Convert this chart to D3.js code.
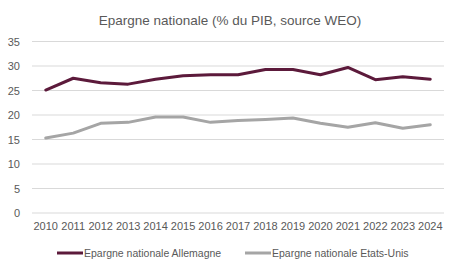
<!DOCTYPE html>
<html>
<head>
<meta charset="utf-8">
<script src="https://cdn.jsdelivr.net/npm/d3@7"></script>
<style>
  body { margin: 0; background: #fff; }
  text { font-family: "Liberation Sans", Arial, sans-serif; fill: #595959; }
</style>
</head>
<body>
<div id="chart"></div>
<script>
var years = ["2010","2011","2012","2013","2014","2015","2016","2017","2018","2019","2020","2021","2022","2023","2024"]
var allemagne = [25.1, 27.5, 26.6, 26.3, 27.3, 28.0, 28.2, 28.2, 29.3, 29.3, 28.2, 29.7, 27.2, 27.8, 27.3]
var etatsUnis = [15.3, 16.3, 18.3, 18.5, 19.6, 19.6, 18.5, 18.9, 19.1, 19.4, 18.3, 17.5, 18.4, 17.3, 18.0]
var yTicks = [0, 5, 10, 15, 20, 25, 30, 35]
var seriesNames = ["Epargne nationale Allemagne", "Epargne nationale Etats-Unis"]
var colors = ["#5c1a3b", "#a5a5a5"]

var width = 460, height = 274
var margin = { top: 41.5, right: 16, bottom: 61, left: 32 }

var svg = d3.select("#chart").append("svg")
    .attr("width", width)
    .attr("height", height)

var x = d3.scaleBand()
    .domain(years)
    .range([margin.left, width - margin.right])

var y = d3.scaleLinear()
    .domain([0, 35])
    .range([height - margin.bottom, margin.top])

// title
svg.append("text")
    .attr("x", 230)
    .attr("y", 25)
    .attr("text-anchor", "middle")
    .style("font-size", "13.5px")
    .text("Epargne nationale (% du PIB, source WEO)")

// gridlines
svg.append("g").selectAll("line")
    .data(yTicks)
    .enter().append("line")
    .attr("x1", margin.left)
    .attr("x2", width - margin.right)
    .attr("y1", function(d){ return y(d) })
    .attr("y2", function(d){ return y(d) })
    .attr("stroke", "#d9d9d9")
    .attr("stroke-width", 1)

var yAxis = d3.axisLeft(y).tickValues(yTicks).tickSize(0).tickPadding(12)
svg.append("g")
    .attr("transform", "translate(" + margin.left + ",0)")
    .call(yAxis)
    .call(function(g){ g.select(".domain").remove() })
    .selectAll("text")
    .style("font-size", "11px")
    .attr("fill", "#595959")

var xAxis = d3.axisBottom(x).tickSize(0).tickPadding(9)
svg.append("g")
    .attr("transform", "translate(0," + y(0) + ")")
    .call(xAxis)
    .call(function(g){ g.select(".domain").remove() })
    .selectAll("text")
    .style("font-size", "11px")
    .attr("fill", "#595959")

var line = d3.line()
    .x(function(d, i){ return x(years[i]) + x.bandwidth() / 2 })
    .y(function(d){ return y(d) })

;[allemagne, etatsUnis].forEach(function(s, i) {
    svg.append("path")
        .datum(s)
        .attr("fill", "none")
        .attr("stroke", colors[i])
        .attr("stroke-width", 3)
        .attr("stroke-linejoin", "round")
        .attr("stroke-linecap", "round")
        .attr("d", line)
})

// legend
var legendX = [57, 245]
var legend = svg.append("g").selectAll("g")
    .data(seriesNames)
    .enter().append("g")
    .attr("transform", function(d, i){ return "translate(" + legendX[i] + ",253)" })
legend.append("line")
    .attr("x1", 0).attr("x2", 26)
    .attr("stroke", function(d, i){ return colors[i] })
    .attr("stroke-width", 3)
legend.append("text")
    .attr("x", 27)
    .attr("dy", "0.35em")
    .style("font-size", "10.5px")
    .text(function(d){ return d })
</script>
</body>
</html>
